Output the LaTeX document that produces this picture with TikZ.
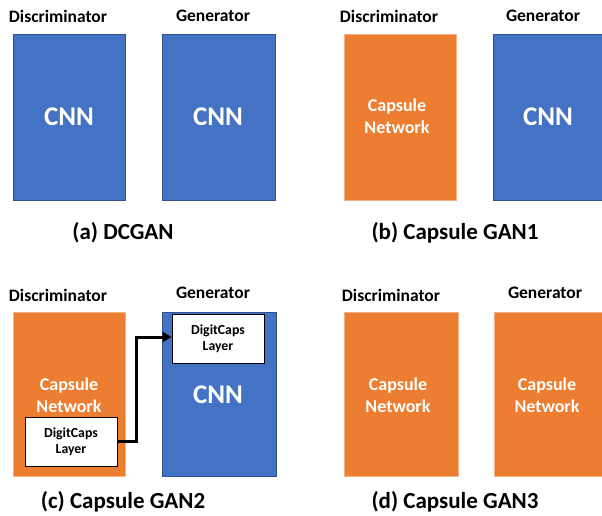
\documentclass[tikz,border=0pt]{standalone}
\usepackage{fontspec}
\setmainfont{Carlito}
\usetikzlibrary{arrows.meta}
\definecolor{cblue}{HTML}{4472C4}
\definecolor{cblueb}{HTML}{2F528F}
\definecolor{corange}{HTML}{ED7D31}
\definecolor{coranb}{HTML}{F4B183}
\tikzset{
  bluebox/.style={draw=cblueb, line width=0.8pt, fill=cblue, inner sep=0pt},
  orangebox/.style={draw=coranb, line width=0.6pt, fill=corange, inner sep=0pt},
  inner/.style={text=white, font=\bfseries\fontsize{18}{22.5}\selectfont, align=center},
  cnn/.style={text=white, font=\bfseries\fontsize{27}{30}\selectfont},
  head/.style={font=\bfseries\fontsize{17.5}{20}\selectfont},
  capt/.style={font=\bfseries\fontsize{23}{26}\selectfont},
  digit/.style={draw=black, line width=0.9pt, fill=white, font=\bfseries\fontsize{13.8}{16.5}\selectfont, align=center, inner sep=0pt},
}
\begin{document}
\begin{tikzpicture}[x=1pt,y=-1pt]
\useasboundingbox (0,0) rectangle (602,515);
% ---------- (a)
\node[head] (ah1) at (58,16) {Discriminator};
\node[head] (ah2) at (213,16) {Generator};
\path[bluebox] (13.5,34) rectangle (125,200);
\node[cnn] (acnn1) at (69,117) {CNN};
\path[bluebox] (162,34) rectangle (275,200);
\node[cnn] (acnn2) at (218,117) {CNN};
\node[capt] (acap) at (123,233) {(a) DCGAN};
% ---------- (b)
\node[head] (bh1) at (389,16) {Discriminator};
\node[head] (bh2) at (543,16) {Generator};
\path[orangebox] (344,34) rectangle (456,200);
\node[inner] (bcap1) at (397,116) {Capsule\\Network};
\path[bluebox] (493,34) rectangle (606,200);
\node[cnn] (bcnn) at (548,117) {CNN};
\node[capt] (bcap) at (455,233) {(b) Capsule GAN1};
% ---------- (c)
\node[head] (ch1) at (58,295) {Discriminator};
\node[head] (ch2) at (213,293) {Generator};
\path[orangebox] (13.5,312) rectangle (125,476);
\node[inner] (ccap1) at (69,395) {Capsule\\Network};
\path[bluebox] (162,312) rectangle (276,476);
\node[cnn] (ccnn) at (218,395) {CNN};
\node[digit, minimum width=92pt, minimum height=49pt] (dlow) at (71,441.5) {DigitCaps\\Layer};
\node[digit, minimum width=92pt, minimum height=49pt] (dup) at (218,338.5) {DigitCaps\\Layer};
\coordinate (bend1) at (136,441);
\coordinate (bend2) at (136,337);
\draw[line width=3pt, -{Triangle[length=9pt,width=10pt]}] (dlow.east |- bend1) -- (bend1) -- (bend2) -- (dup.west |- bend2);
\node[capt] (ccap) at (123,502) {(c) Capsule GAN2};
% ---------- (d)
\node[head] (dh1) at (391,295) {Discriminator};
\node[head] (dh2) at (545,293) {Generator};
\path[orangebox] (344,312) rectangle (458,476);
\node[inner] (dcap1) at (398,395) {Capsule\\Network};
\path[orangebox] (494,312) rectangle (606,476);
\node[inner] (dcap2) at (547,395) {Capsule\\Network};
\node[capt] (dcap) at (455,502) {(d) Capsule GAN3};
\end{tikzpicture}
\end{document}
